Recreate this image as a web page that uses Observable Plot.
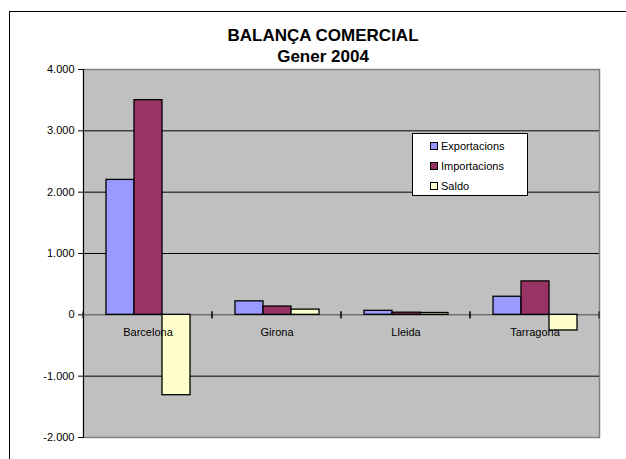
<!DOCTYPE html>
<html><head><meta charset="utf-8">
<script src="https://cdn.jsdelivr.net/npm/d3@7"></script>
<script src="https://cdn.jsdelivr.net/npm/@observablehq/plot@0.6"></script>
<style>
body{margin:0;background:#fff;font-family:"Liberation Sans",Arial,sans-serif;}
#wrap{position:relative;width:626px;height:459px;overflow:hidden;background:#fff;}
#border{position:absolute;left:9px;top:11px;width:700px;height:600px;border:1px solid #000;}
#title{position:absolute;left:0;top:25px;width:646px;text-align:center;font-weight:bold;font-size:17px;line-height:21px;color:#000;}
#chart{position:absolute;left:0;top:62px;}
#legend{position:absolute;left:412px;top:133px;width:114px;height:58px;background:#fff;border:1px solid #000;font-size:11px;padding-top:3px;box-sizing:content-box;}
#legend .row{height:20px;line-height:18px;padding-left:17px;white-space:nowrap;}
#legend .sw{display:inline-block;width:6px;height:6px;border:1px solid #000;margin-right:3px;vertical-align:middle;position:relative;top:-1px;}
</style>
</head><body>
<div id="wrap">
  <div id="border"></div>
  <div id="title"></div>
  <div id="chart"></div>
  <div id="legend"></div>
</div>
<script>
const titleLines = ["BALANÇA COMERCIAL", "Gener 2004"];
const regions = ["Barcelona", "Girona", "Lleida", "Tarragona"];
const series = ["Exportacions", "Importacions", "Saldo"];
const exportacions = [2200, 220, 65, 295];
const importacions = [3500, 135, 35, 545];
const saldo = [-1310, 85, 30, -255];
const colors = ["#9999FF", "#993366", "#FFFFCC"];
const yTicks = [-2000, -1000, 0, 1000, 2000, 3000, 4000];

const valuesBySeries = [exportacions, importacions, saldo];
const data = regions.flatMap((r, i) => series.map((s, j) => ({region: r, series: s, value: valuesBySeries[j][i]})));

document.getElementById("title").innerHTML = titleLines.map(t => `<div>${t}</div>`).join("");
document.getElementById("legend").innerHTML = series.map((s, j) =>
  `<div class="row"><span class="sw" style="background:${colors[j]}"></span>${s}</div>`).join("");

const fmt = d3.formatLocale({decimal: ",", thousands: ".", grouping: [3], currency: ["", "€"], minus: "-"}).format(",");

function catTicks(index, scales) {
  const [a, b] = scales.x.range();
  const y0 = scales.y(0);
  const g = d3.create("svg:g").attr("stroke", "#000").attr("stroke-width", 1);
  for (const x of [a, b]) g.append("line").attr("x1", x).attr("x2", x).attr("y1", y0 - 3).attr("y2", y0 + 4);
  return g.node();
}

const chart = Plot.plot({
  width: 626, height: 397,
  marginLeft: 82, marginRight: 27, marginTop: 7, marginBottom: 22,
  style: {fontFamily: "Liberation Sans, Arial, sans-serif", fontSize: "11px", color: "#000", background: "transparent", overflow: "visible"},
  fx: {domain: regions, padding: 0, axis: null},
  x: {domain: series, paddingInner: 0, paddingOuter: 0.75, axis: null},
  y: {domain: [-2000, 4000], axis: null},
  color: {domain: series, range: colors},
  marks: [
    Plot.frame({fill: "#C0C0C0", facet: "super"}),
    Plot.ruleY(yTicks.filter(d => d !== 0 && d !== 4000 && d !== -2000), {stroke: "#000", strokeWidth: 1}),
    Plot.frame({stroke: "#808080", strokeWidth: 1.5, facet: "super"}),
    Plot.frame({anchor: "left", stroke: "#000", strokeWidth: 1, facet: "super"}),
    Plot.ruleY([0], {stroke: "#707070", strokeWidth: 1.5}),
    Plot.barY(data, {fx: "region", x: "series", y: "value", fill: "series", stroke: "#000", strokeWidth: 1.3}),
    catTicks,
    Plot.text(regions, {fx: d => d, y: 0, text: d => d, dy: 18, fill: "#000"}),
    Plot.axisY({ticks: yTicks, tickFormat: fmt, tickSize: 5, tickPadding: 4, anchor: "left", label: null})
  ]
});
document.getElementById("chart").appendChild(chart);
</script>
</body></html>
